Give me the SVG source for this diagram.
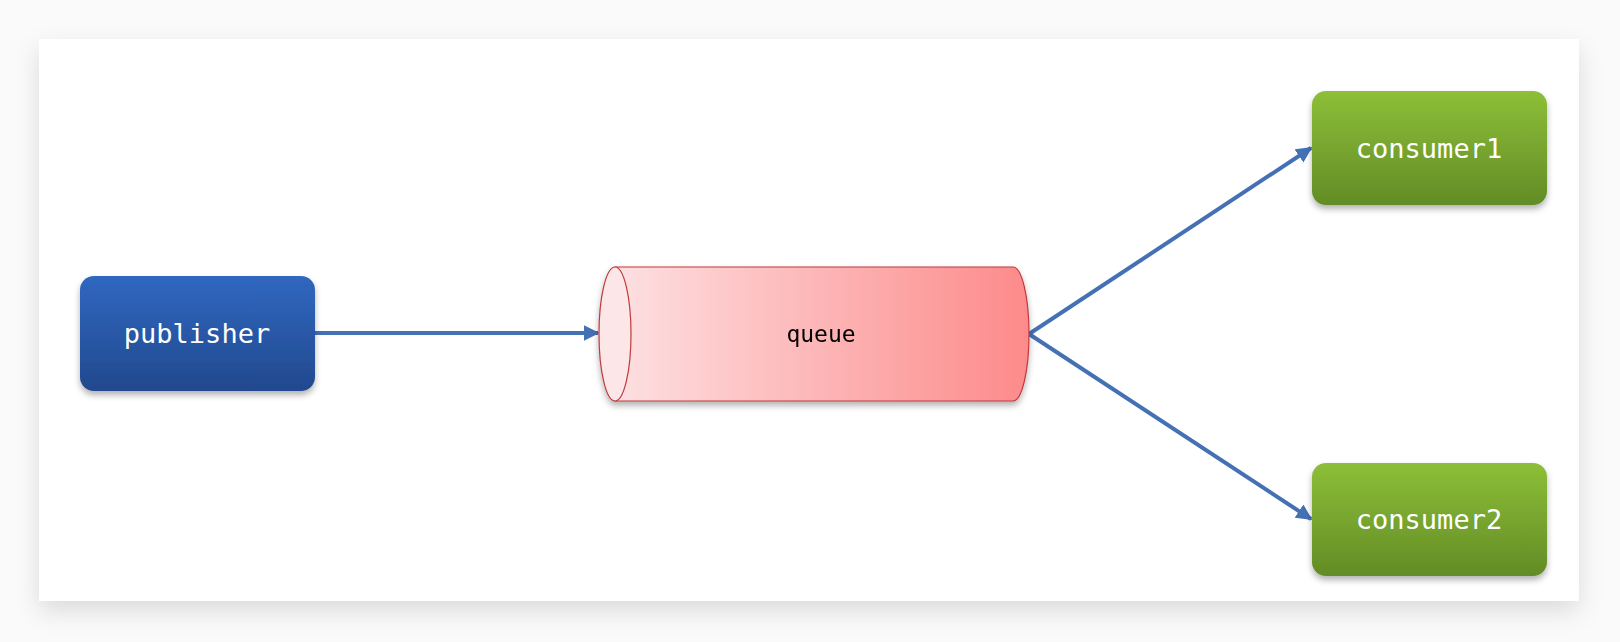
<svg xmlns="http://www.w3.org/2000/svg" width="1620" height="642" viewBox="0 0 1620 642">
<defs>
<linearGradient id="gb" x1="0" y1="0" x2="0" y2="1"><stop offset="0" stop-color="#3067c0"/><stop offset="1" stop-color="#22498e"/></linearGradient>
<linearGradient id="gg" x1="0" y1="0" x2="0" y2="1"><stop offset="0" stop-color="#8dbf38"/><stop offset="1" stop-color="#628c26"/></linearGradient>
<linearGradient id="gr" x1="0" y1="0" x2="1" y2="0"><stop offset="0" stop-color="#fde0e2"/><stop offset="1" stop-color="#fd8a8a"/></linearGradient>
<filter id="sh" x="-20%" y="-20%" width="140%" height="150%"><feDropShadow dx="0" dy="4" stdDeviation="3" flood-color="#000" flood-opacity="0.3"/></filter>
<filter id="ps" x="-5%" y="-10%" width="110%" height="125%"><feDropShadow dx="0" dy="10" stdDeviation="12" flood-color="#000" flood-opacity="0.12"/></filter>
<marker id="ar" viewBox="0 0 10 10" refX="9" refY="5" markerWidth="4" markerHeight="4" orient="auto" markerUnits="strokeWidth"><path d="M0,0 L10,5 L0,10 z" fill="#4470b4"/></marker>
<style>
.lbl{font-family:"DejaVu Sans Mono","Liberation Mono",monospace;font-size:27px;fill:#fff;text-anchor:middle;dominant-baseline:central}
.cn{stroke:#4470b4;stroke-width:4;fill:none;marker-end:url(#ar)}
</style>
</defs>
<rect width="1620" height="642" fill="#fafafa"/>
<rect x="39" y="39" width="1540" height="562" fill="#fff" filter="url(#ps)"/>
<g id="connectors">
<line class="cn" x1="315" y1="333" x2="598" y2="333"/>
<line class="cn" x1="1029" y1="334" x2="1311" y2="148"/>
<line class="cn" x1="1029" y1="334" x2="1311" y2="519"/>
</g>
<g id="publisher"><rect x="80" y="276" width="235" height="115" rx="14" fill="url(#gb)" filter="url(#sh)"/><text class="lbl" x="197" y="333">publisher</text></g>
<g id="queue" filter="url(#sh)">
<path d="M615,267 H1013 A16,67 0 0 1 1013,401 H615 Z" fill="url(#gr)" stroke="#c0393b" stroke-width="1.2"/>
<ellipse cx="615" cy="334" rx="16" ry="67" fill="#fde6e8" stroke="#c0393b" stroke-width="1.2"/>
<text x="821" y="334" font-family="'DejaVu Sans Mono',monospace" font-size="23" text-anchor="middle" dominant-baseline="central" fill="#000">queue</text>
</g>
<g id="consumer1"><rect x="1312" y="91" width="235" height="114" rx="14" fill="url(#gg)" filter="url(#sh)"/><text class="lbl" x="1429" y="148">consumer1</text></g>
<g id="consumer2"><rect x="1312" y="463" width="235" height="113" rx="14" fill="url(#gg)" filter="url(#sh)"/><text class="lbl" x="1429" y="519">consumer2</text></g>
</svg>
